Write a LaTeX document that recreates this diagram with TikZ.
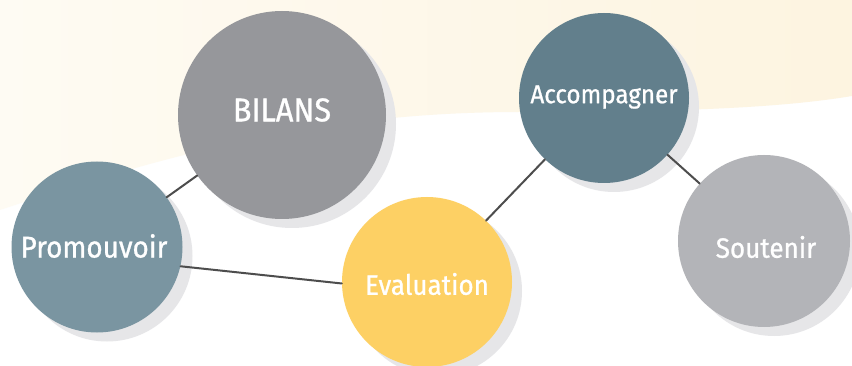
\documentclass[tikz,border=0pt]{standalone}
\usepackage{fontspec}
\setmainfont{Fira Sans}[FakeStretch=0.93, FakeBold=0.9]
\usepackage{xcolor}
\usepackage{tikz}
\usetikzlibrary{calc,shadows}
\definecolor{creamL}{HTML}{FEFBF3}
\definecolor{creamR}{HTML}{FDF4E0}
\definecolor{shade}{HTML}{E6E6E8}
\definecolor{linkc}{HTML}{4D4D4D}
\definecolor{bilansc}{HTML}{96979B}
\definecolor{accc}{HTML}{627F8C}
\definecolor{promc}{HTML}{7A95A1}
\definecolor{evalc}{HTML}{FDD064}
\definecolor{soutc}{HTML}{B3B4B8}
\tikzset{
  bub/.style={circle, inner sep=0pt, draw=none,
    drop shadow={shadow xshift=10pt, shadow yshift=-9pt, fill=shade, opacity=1}},
  link/.style={draw=linkc, line width=2pt, line cap=round},
  lab/.style={text=white, inner sep=0pt}
}

\begin{document}
\begin{tikzpicture}[x=1pt, y=-1pt]
  \useasboundingbox (0,0) rectangle (852,366);
  \clip (0,0) rectangle (852,366);
  % background
  \fill[white] (0,0) rectangle (852,366);
  \shade[left color=creamL, right color=creamR] (0,0) -- (852,0) -- (852,96)
    .. controls (780,108) and (680,112) .. (520,112)
    .. controls (330,112) and (180,150) .. (0,210) -- cycle;
  % bubbles
  \node[bub, fill=bilansc, minimum size=208pt] (bilans) at (282,115) {};
  \node[bub, fill=accc, minimum size=170pt] (acc) at (604,98) {};
  \node[bub, fill=promc, minimum size=171pt] (prom) at (97,247) {};
  \node[bub, fill=evalc, minimum size=170pt] (eval) at (427,282) {};
  \node[bub, fill=soutc, minimum size=172pt] (sout) at (764,241) {};
  % links
  \draw[link] (prom) -- (bilans);
  \draw[link] (prom.-13) -- (eval.181);
  \draw[link] (eval) -- (acc);
  \draw[link] (acc) -- (sout);
  % labels
  \node[lab, font=\fontsize{33}{38}\selectfont] (bilanslab) at ($(bilans)+(0,-5)$) {BILANS};
  \node[lab, font=\fontsize{26}{31}\selectfont] (acclab) at ($(acc)+(0,-1)$) {Accompagner};
  \node[lab, font=\fontsize{30}{35}\selectfont] (promlab) at ($(prom)+(-3,-1)$) {Promouvoir};
  \node[lab, font=\fontsize{28}{33}\selectfont] (evallab) at ($(eval)+(0,2)$) {Evaluation};
  \node[lab, font=\fontsize{28}{33}\selectfont] (soutlab) at ($(sout)+(2,6)$) {Soutenir};
\end{tikzpicture}
\end{document}
